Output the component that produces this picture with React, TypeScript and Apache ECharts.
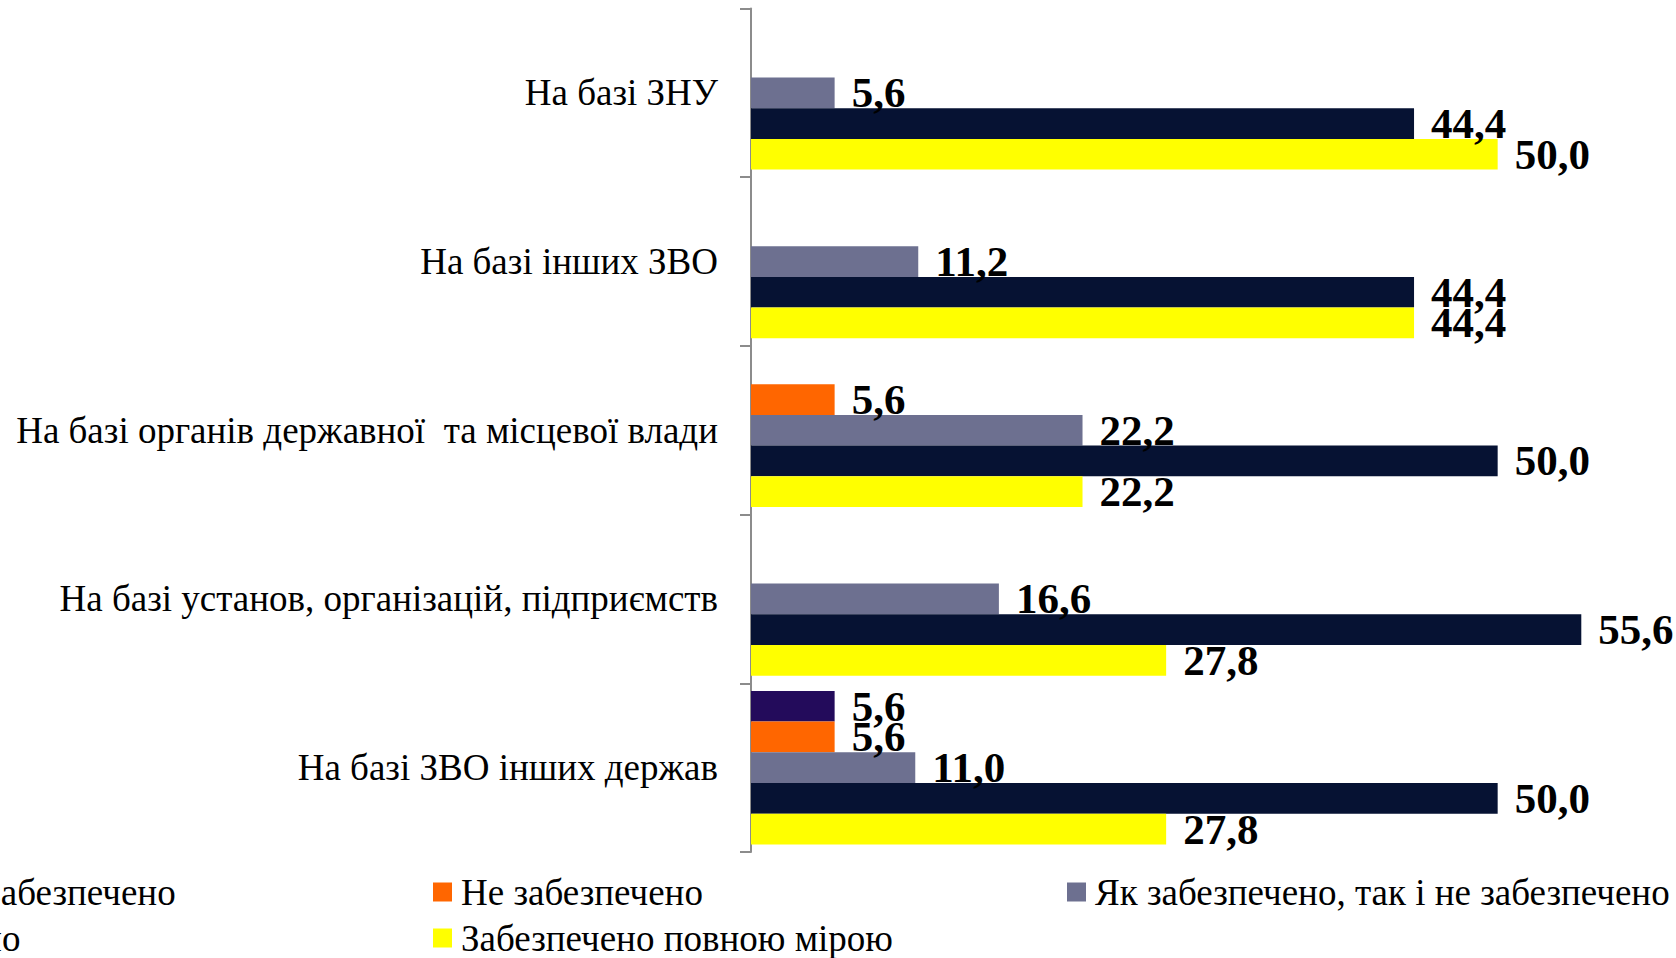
import React, { useEffect, useRef } from "react";
import * as echarts from "echarts";

const categories = [
  "На базі ЗНУ",
  "На базі інших ЗВО",
  "На базі органів державної  та місцевої влади",
  "На базі установ, організацій, підприємств",
  "На базі ЗВО інших держав",
];

const seriesNames = [
  "Зовсім не забезпечено",
  "Не забезпечено",
  "Як забезпечено, так і не забезпечено",
  "Забезпечено",
  "Забезпечено повною мірою",
];

const seriesColors = ["#230B5B", "#FF6600", "#6D7090", "#061233", "#FFFF00"];

const notAtAll = [null, null, null, null, 5.6];
const notProvided = [null, null, 5.6, null, 5.6];
const neutral = [5.6, 11.2, 22.2, 16.6, 11.0];
const provided = [44.4, 44.4, 50.0, 55.6, 50.0];
const fullyProvided = [50.0, 44.4, 22.2, 27.8, 27.8];

const seriesValues = [notAtAll, notProvided, neutral, provided, fullyProvided];

const legendColumns = [
  [seriesNames[0], seriesNames[3]],
  [seriesNames[1], seriesNames[4]],
  [seriesNames[2]],
];
const legendLefts = [-206, 428, 1062];

const FONT = "'Liberation Serif', 'Times New Roman', serif";

export default function App() {
  const ref = useRef<HTMLDivElement>(null);

  useEffect(() => {
    document.body.style.margin = "0";
    if (!ref.current) return;
    const chart = echarts.init(ref.current, undefined, { renderer: "svg" });
    const option = {
      animation: false,
      backgroundColor: "#ffffff",
      grid: { left: 751, right: 29, top: 8.5, bottom: 106, containLabel: false },
      xAxis: {
        type: "value",
        min: 0,
        max: 60,
        show: false,
      },
      yAxis: {
        type: "category",
        data: categories,
        inverse: true,
        axisLine: { show: true, lineStyle: { color: "#8C8C8C", width: 2 } },
        axisTick: { show: true, length: 11, lineStyle: { color: "#8C8C8C", width: 2 } },
        axisLabel: {
          margin: 33,
          color: "#000000",
          fontFamily: FONT,
          fontSize: 37,
        },
        splitLine: { show: false },
      },
      legend: legendColumns.map((col, i) => ({
        orient: "vertical",
        left: legendLefts[i],
        top: 864,
        height: 200,
        width: 700,
        itemGap: 0,
        itemWidth: 19,
        itemHeight: 19,
        icon: "rect",
        data: col,
        selectedMode: false,
        textStyle: {
          fontFamily: FONT,
          fontSize: 37,
          color: "#000000",
          lineHeight: 46,
          padding: [0, 0, 0, 4],
        },
      })),
      series: seriesNames.map((name, i) => ({
        name,
        type: "bar",
        data: seriesValues[i].map((v) => (v === null ? "-" : v)),
        barGap: "0%",
        barCategoryGap: "9%",
        itemStyle: { color: seriesColors[i] },
        label: {
          show: true,
          position: "right",
          distance: 17,
          color: "#000000",
          fontFamily: FONT,
          fontWeight: "bold",
          fontSize: 43,
          formatter: (p: any) => Number(p.value).toFixed(1).replace(".", ","),
        },
      })),
    };
    chart.setOption(option);
    return () => chart.dispose();
  }, []);

  return <div ref={ref} style={{ width: 1676, height: 958 }} />;
}
